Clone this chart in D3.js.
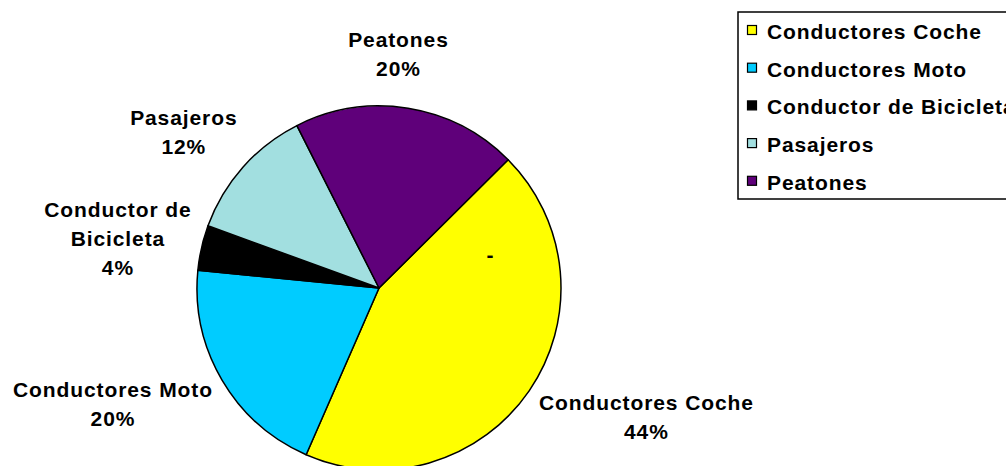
<!DOCTYPE html>
<html>
<head>
<meta charset="utf-8">
<script src="https://cdn.jsdelivr.net/npm/d3@7"></script>
<style>
  body { margin: 0; background: #fff; }
  svg text { font-family: "Liberation Sans", Arial, sans-serif; font-weight: bold; font-size: 21px; letter-spacing: 0.9px; fill: #000; }
</style>
</head>
<body>
<svg id="grafico"></svg>
<script>
const w = 1006;
const h = 466;

// datos (porcentaje de victimas)
const categorias = ['Conductores Coche', 'Conductores Moto', 'Conductor de Bicicleta', 'Pasajeros', 'Peatones'];
const valores = [44, 20, 4, 12, 20];
const etiquetas = [['Conductores Coche'], ['Conductores Moto'], ['Conductor de', 'Bicicleta'], ['Pasajeros'], ['Peatones']];
const colores = ['#ffff00', '#00ccff', '#000000', '#a2dfe0', '#5f007a'];

const cx = 379, cy = 288, radio = 182;
const inicio = 45.2 * Math.PI / 180;
const lineaAlto = 29;
// pequeños ajustes de posicion de las etiquetas
const ajuste = [[22, 6], [-16, 6], [-4, 3], [-13, -10], [-19, -17]];

const svg = d3.select('#grafico')
  .attr('width', w)
  .attr('height', h);

const pie = d3.pie().sort(null).startAngle(inicio).endAngle(inicio + 2 * Math.PI);
const arco = d3.arc().innerRadius(0).outerRadius(radio);
const total = d3.sum(valores);

const g = svg.append('g').attr('transform', 'translate(' + cx + ',' + cy + ')');

const sectores = pie(valores);

g.selectAll('path')
  .data(sectores)
  .enter()
  .append('path')
  .attr('d', arco)
  .style('fill', (d, i) => colores[i])
  .style('stroke', '#000')
  .style('stroke-width', 1.5)
  .style('stroke-linejoin', 'round');

// etiquetas fuera del circulo
sectores.forEach((d, i) => {
  const lineas = etiquetas[i].concat([Math.round(100 * d.value / total) + '%']);
  const t = g.append('text').attr('text-anchor', 'middle');
  lineas.forEach((l, k) => t.append('tspan').text(l));
  let ancho = 0;
  t.selectAll('tspan').each(function () { ancho = Math.max(ancho, this.getComputedTextLength()); });
  const alto = lineas.length * lineaAlto;
  const a = (d.startAngle + d.endAngle) / 2;
  const r2 = radio + 8;
  const x = Math.sin(a) * (r2 + ancho / 2) + ajuste[i][0];
  const y = -Math.cos(a) * (r2 + alto / 2) + ajuste[i][1];
  const y0 = y - (lineas.length - 1) * lineaAlto / 2 + 7;
  t.selectAll('tspan')
    .attr('x', x)
    .attr('y', (l, k) => y0 + k * lineaAlto);
});

// guion suelto dentro del sector amarillo
const pGuion = d3.pointRadial(74 * Math.PI / 180, 116);
g.append('text')
  .attr('text-anchor', 'middle')
  .attr('x', pGuion[0])
  .attr('y', pGuion[1] + 6)
  .text('-');

// leyenda
const ley = svg.append('g').attr('transform', 'translate(738, 12)');
ley.append('rect')
  .attr('width', 300)
  .attr('height', 187)
  .style('fill', '#fff')
  .style('stroke', '#000')
  .style('stroke-width', 1.5);

const filas = ley.selectAll('g.fila')
  .data(categorias)
  .enter()
  .append('g')
  .attr('class', 'fila')
  .attr('transform', (d, i) => 'translate(0,' + (27 + i * 37.7) + ')');

filas.append('rect')
  .attr('x', 9.5)
  .attr('y', -13.5)
  .attr('width', 9)
  .attr('height', 9)
  .style('fill', (d, i) => colores[i])
  .style('stroke', '#000')
  .style('stroke-width', 1.2);

filas.append('text')
  .attr('x', 29)
  .attr('y', 0)
  .text(d => d);
</script>
</body>
</html>
